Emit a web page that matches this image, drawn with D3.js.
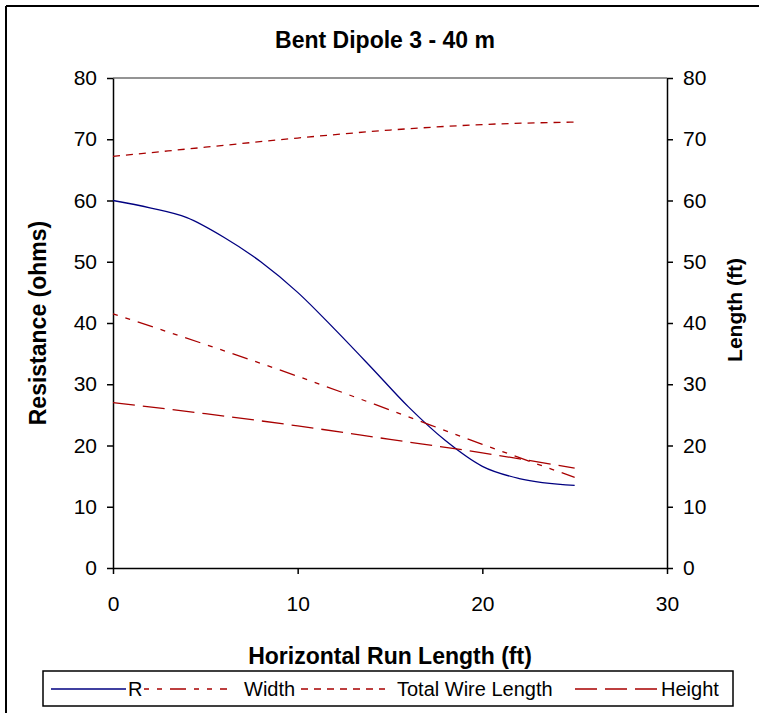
<!DOCTYPE html>
<html>
<head>
<meta charset="utf-8">
<script src="https://cdnjs.cloudflare.com/ajax/libs/d3/7.8.5/d3.min.js"></script>
<style>
  body { margin: 0; background: #fff; }
  text { font-family: "Liberation Sans", Arial, sans-serif; fill: #000; }
</style>
</head>
<body>
<script>
var W = 765, H = 719;

// data
var rX      = [0, 2, 4, 6, 8, 10, 12, 14, 16, 18, 20, 22, 25];
var rVals   = [60, 58.8, 57.2, 54, 50, 45, 39, 32.7, 26.3, 20.8, 16.6, 14.6, 13.5];
var lenX    = [0, 5, 10, 15, 20, 25];
var widthV  = [41.5, 36.5, 31.3, 25.8, 20.2, 14.8];
var totalV  = [67.2, 68.7, 70.2, 71.5, 72.4, 72.8];
var heightV = [27, 25.2, 23.2, 21, 18.8, 16.3];
var xTicks  = [0, 10, 20, 30];
var yTicks  = [0, 10, 20, 30, 40, 50, 60, 70, 80];

var pLeft = 113, pRight = 667, pTop = 78, pBottom = 568;

var svg = d3.select('body').append('svg')
	.attr('width', W)
	.attr('height', H);

// frame of the whole chart (only top and left show dark)
svg.append('line').attr('x1', 6).attr('y1', 6).attr('x2', 759).attr('y2', 6)
	.attr('stroke', '#000').attr('stroke-width', 2);
svg.append('line').attr('x1', 6).attr('y1', 6).attr('x2', 6).attr('y2', 713)
	.attr('stroke', '#000').attr('stroke-width', 2);

var x = d3.scaleLinear().domain([0, 30]).range([pLeft, pRight]);
var yL = d3.scaleLinear().domain([0, 80]).range([pBottom, pTop]);
var yR = d3.scaleLinear().domain([0, 80]).range([pBottom, pTop]);

// top edge of plot area
svg.append('line').attr('x1', pLeft).attr('x2', pRight).attr('y1', pTop).attr('y2', pTop)
	.attr('stroke', '#707070').attr('stroke-width', 1.5);

function styleAxis(g) {
	g.selectAll('path').attr('stroke', '#000').attr('stroke-width', 1.5);
	g.selectAll('line').attr('stroke', '#000').attr('stroke-width', 1.5);
	g.selectAll('text').style('font-size', '21px').attr('fill', '#000');
}

svg.append('g').attr('transform', 'translate(0,' + pBottom + ')')
	.call(d3.axisBottom(x).tickValues(xTicks).tickSize(6).tickSizeOuter(0).tickPadding(22))
	.call(styleAxis);

svg.append('g').attr('transform', 'translate(' + pLeft + ',0)')
	.call(d3.axisLeft(yL).tickValues(yTicks).tickSize(6).tickSizeOuter(0).tickPadding(10))
	.call(styleAxis);

svg.append('g').attr('transform', 'translate(' + pRight + ',0)')
	.call(d3.axisRight(yR).tickValues(yTicks).tickSize(6).tickSizeOuter(0).tickPadding(10))
	.call(styleAxis);

var red = '#a80000';

var lineL = d3.line().curve(d3.curveMonotoneX)
	.x(function(d) { return x(d[0]); })
	.y(function(d) { return yL(d[1]); });
var lineR = d3.line().curve(d3.curveMonotoneX)
	.x(function(d) { return x(d[0]); })
	.y(function(d) { return yR(d[1]); });

function pairs(xs, ys) {
	return xs.map(function(v, i) { return [v, ys[i]]; });
}

var series = [
	{ name: 'R', data: pairs(rX, rVals), line: lineL, color: '#000080', dash: null },
	{ name: 'Width', data: pairs(lenX, widthV), line: lineR, color: red, dash: '5,8,5,8,16,8' },
	{ name: 'Total Wire Length', data: pairs(lenX, totalV), line: lineR, color: red, dash: '7,6' },
	{ name: 'Height', data: pairs(lenX, heightV), line: lineR, color: red, dash: '22,8' }
];

svg.selectAll('.series')
	.data(series)
	.enter().append('path')
		.attr('class', 'series')
		.attr('d', function(d) { return d.line(d.data); })
		.attr('fill', 'none')
		.attr('stroke', function(d) { return d.color; })
		.attr('stroke-width', 1.3)
		.attr('stroke-dasharray', function(d) { return d.dash; });

// titles
svg.append('text').attr('x', 385).attr('y', 48).attr('text-anchor', 'middle')
	.style('font-size', '23px').style('font-weight', 'bold')
	.text('Bent Dipole 3 - 40 m');

svg.append('text').attr('x', 390).attr('y', 664).attr('text-anchor', 'middle')
	.style('font-size', '23px').style('font-weight', 'bold')
	.text('Horizontal Run Length (ft)');

svg.append('text').attr('transform', 'translate(46,323)rotate(-90)').attr('text-anchor', 'middle')
	.style('font-size', '23px').style('font-weight', 'bold')
	.text('Resistance (ohms)');

svg.append('text').attr('transform', 'translate(742,310)rotate(-90)').attr('text-anchor', 'middle')
	.style('font-size', '21px').style('font-weight', 'bold')
	.text('Length (ft)');

// legend
var lg = svg.append('g');
lg.append('rect').attr('x', 43).attr('y', 671).attr('width', 690).attr('height', 35)
	.attr('fill', '#fff').attr('stroke', '#000').attr('stroke-width', 1.5);

var items = [
	{ s: series[0], x0: 51, x1: 126, tx: 128 },
	{ s: series[1], x0: 144, x1: 227, tx: 244 },
	{ s: series[2], x0: 301, x1: 385, tx: 397 },
	{ s: series[3], x0: 575, x1: 659, tx: 661 }
];

items.forEach(function(it) {
	lg.append('line').attr('x1', it.x0).attr('x2', it.x1).attr('y1', 689).attr('y2', 689)
		.attr('stroke', it.s.color).attr('stroke-width', 1.5)
		.attr('stroke-dasharray', it.s.dash);
	lg.append('text').attr('x', it.tx).attr('y', 696)
		.style('font-size', '20px')
		.text(it.s.name);
});
</script>
</body>
</html>
